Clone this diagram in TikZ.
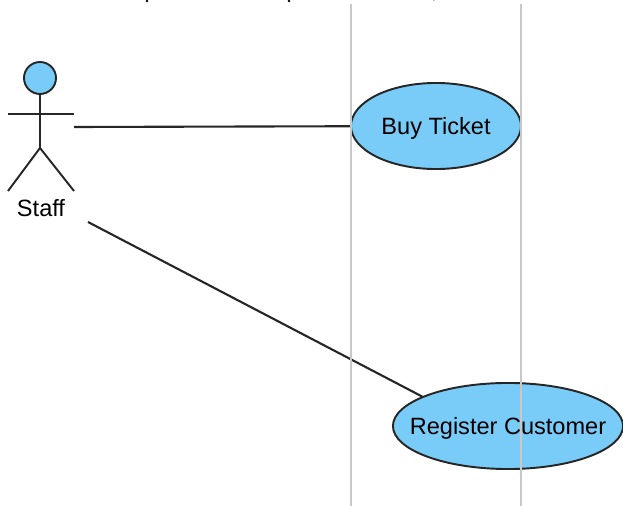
\documentclass[tikz,border=0pt]{standalone}
\usepackage{fontspec}
\setmainfont{Liberation Sans}
\usepackage{color}
\usetikzlibrary{shapes.geometric}
\definecolor{usecaseblue}{HTML}{7ACCF8}
\definecolor{laneline}{HTML}{C8C8C8}
\tikzset{
    usecase/.style={ellipse, draw=black!85, fill=usecaseblue, line width=0.55pt, inner xsep=-0.7cm, inner ysep=0pt, text depth=0pt, font=\fontsize{6.7pt}{8pt}\selectfont},
    stickline/.style={black!85, line width=0.55pt},
    assocline/.style={black!85, line width=0.6pt},
    laneborder/.style={laneline, line width=0.55pt}
}

\begin{document}
\begin{tikzpicture}[x=0.01cm, y=-0.01cm]
    \useasboundingbox (0,0) rectangle (623,506);

    % Use cases
    \node[usecase, minimum width=1.7cm, minimum height=0.86cm] (buy) at (436,126) {Buy Ticket};
    \node[usecase, minimum width=2.3cm, minimum height=0.86cm] (register) at (508,426) {Register Customer};

    % Actor
    \draw[stickline, fill=usecaseblue] (40,78) circle [radius=16];
    \draw[stickline] (40,94) -- (40,148);
    \draw[stickline] (8,114) -- (74,114);
    \draw[stickline] (8,191) -- (40,148) -- (74,191);
    \node[font=\fontsize{6.7pt}{8pt}\selectfont, inner sep=0pt] (staff) at (41,208) {Staff};

    % Associations
    \coordinate (stafftop) at (74,127);
    \coordinate (staffbottom) at (88,222);
    \coordinate (registerin) at (423,397);
    \draw[assocline] (stafftop) -- (buy);
    \draw[assocline] (staffbottom) -- (registerin);

    % Lane borders
    \coordinate (lanea) at (351,4);
    \coordinate (laneb) at (521,4);
    \draw[laneborder] (lanea) -- (351,506);
    \draw[laneborder] (laneb) -- (521,506);

    % Cut off text at the top edge
    \fill[black] (147,1) circle [radius=1.3];
    \fill[black] (289,1) circle [radius=1.3];
    \fill[black!40] (434,0) circle [radius=1];
\end{tikzpicture}
\end{document}
